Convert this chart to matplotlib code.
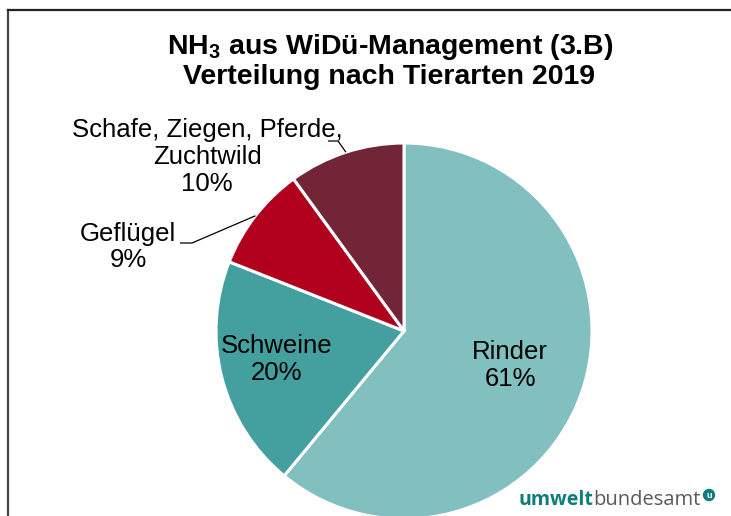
import numpy as np
import matplotlib
matplotlib.use("Agg")
import matplotlib.pyplot as plt
from matplotlib.lines import Line2D
from matplotlib.patches import Circle

# NH3 from manure management, share by animal type 2019
categories = ["Rinder", "Schweine", "Geflügel", "Schafe, Ziegen, Pferde,\nZuchtwild"]
shares = [61, 20, 9, 10]
colors = ["#82BFBF", "#43A09F", "#B0001E", "#722536"]

W, H = 731, 516
plt.rcParams["font.family"] = ["Liberation Sans", "DejaVu Sans"]
plt.rcParams["mathtext.default"] = "regular"


def up(y):
    # image rows (y down) -> axes units (y up)
    return H - y


fig = plt.figure(figsize=(W / 100, H / 100), dpi=100)
ax = fig.add_axes([0, 0, 1, 1])

cx, cy, r = 404, up(331), 188
wedges, _ = ax.pie(shares, colors=colors, startangle=90, counterclock=False,
                   center=(cx, cy), radius=r,
                   wedgeprops=dict(edgecolor="white", linewidth=2.2))
ax.set_xlim(0, W)
ax.set_ylim(0, H)
ax.set_aspect("auto")
ax.axis("off")

lab_size = 18.5

# inner labels
for i, dist in [(0, 0.60), (1, 0.70)]:
    w = wedges[i]
    mid = np.deg2rad((w.theta1 + w.theta2) / 2)
    ax.text(cx + dist * r * np.cos(mid), cy + dist * r * np.sin(mid) + 4,
            f"{categories[i]}\n{shares[i]}%", ha="center", va="center",
            fontsize=lab_size, linespacing=1.15)

# outer labels with leader lines
outer = {2: ((128, 247), (192, 243), (180, 243)),
         3: ((207, 157), (338, 141), (328, 141))}
for i, (txt, elbow, end) in outer.items():
    w = wedges[i]
    mid = np.deg2rad((w.theta1 + w.theta2) / 2)
    x0, y0 = cx + r * np.cos(mid), cy + r * np.sin(mid)
    ax.plot([x0, elbow[0], end[0]], [y0, up(elbow[1]), up(end[1])],
            color="black", lw=0.9, solid_capstyle="butt")
    ax.text(txt[0], up(txt[1]), f"{categories[i]}\n{shares[i]}%",
            ha="center", va="center", fontsize=lab_size, linespacing=1.15)

# title
ax.text(390, up(47), "NH$_3$ aus WiDü-Management (3.B)", ha="center", va="center",
        fontsize=20.5, fontweight="bold")
ax.text(389, up(77), "Verteilung nach Tierarten 2019", ha="center", va="center",
        fontsize=20.5, fontweight="bold")

# logo
ax.text(593, up(505), "umwelt", ha="right", va="baseline", fontsize=14,
        fontweight="bold", color="#0E7C7B", family=["Open Sans", "DejaVu Sans"])
ax.text(593, up(505), "bundesamt", ha="left", va="baseline", fontsize=14.5,
        color="#5A5A5A", family=["Open Sans", "DejaVu Sans"])
ax.add_patch(Circle((709, up(495)), 5.5, color="#0E7C7B"))
ax.text(709, up(495.5), "u", ha="center", va="center", fontsize=6.5,
        fontweight="bold", color="white")

# frame (left and top edges)
fig.add_artist(Line2D([7.5 / W, 7.5 / W], [0, up(10) / H], color="#444444",
                      lw=1.6, transform=fig.transFigure))
fig.add_artist(Line2D([7.5 / W, 1], [up(10) / H, up(10) / H], color="#222222",
                      lw=1.6, transform=fig.transFigure))

fig.savefig("out.png", dpi=100)
